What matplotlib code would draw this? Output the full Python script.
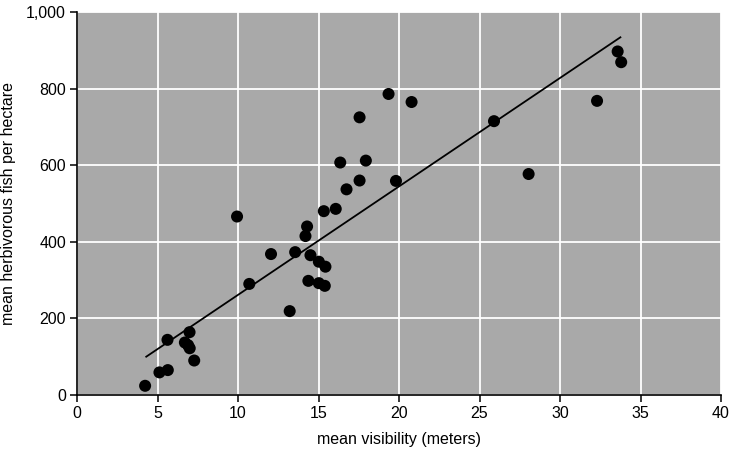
import matplotlib
matplotlib.use("Agg")
import matplotlib.pyplot as plt
from matplotlib.ticker import FuncFormatter

plt.rcParams['font.family'] = ['Liberation Sans', 'DejaVu Sans']

visibility = [4.23, 5.12, 5.64, 5.62, 6.99, 6.7, 6.9, 7.0, 7.28,
              9.94, 10.7, 12.05, 13.21, 13.55, 14.29, 14.19, 14.5, 14.37,
              15.02, 15.43, 15.02, 15.39, 15.33, 16.07, 16.35, 16.74,
              17.55, 17.94, 19.81, 17.55, 19.35, 20.78,
              25.9, 28.05, 32.3, 33.58, 33.8]
fish = [24, 59, 65, 144, 164, 137, 130, 122, 90,
        466, 290, 368, 219, 373, 440, 415, 365, 298,
        348, 335, 292, 285, 480, 486, 607, 537,
        560, 612, 559, 725, 786, 765,
        715, 577, 768, 897, 869]

fit_x = [4.3, 33.75]
fit_y = [100, 934]

xticks = [0, 5, 10, 15, 20, 25, 30, 35, 40]
yticks = [0, 200, 400, 600, 800, 1000]

fig = plt.figure(figsize=(7.32, 4.57), dpi=100)
ax = fig.add_axes([0.1052, 0.1357, 0.8798, 0.838])
ax.set_facecolor('#a9a9a9')
ax.set_xlim(0, 40)
ax.set_ylim(0, 1000)
ax.set_xticks(xticks)
ax.set_yticks(yticks)
ax.yaxis.set_major_formatter(FuncFormatter(lambda v, p: f"{int(v):,}"))
ax.grid(True, color='white', linewidth=1.3)
ax.set_axisbelow(True)
for s in ['top', 'right']:
    ax.spines[s].set_visible(False)
for s in ['left', 'bottom']:
    ax.spines[s].set_linewidth(1.2)
    ax.spines[s].set_color('black')
ax.tick_params(direction='out', length=5, width=1.1, labelsize=11.5, colors='black', pad=3)

ax.plot(fit_x, fit_y, color='black', linewidth=1.3, zorder=3)
ax.scatter(visibility, fish, s=75, color='black', zorder=4, edgecolors='none')

ax.set_xlabel('mean visibility (meters)', fontsize=11.5, labelpad=8)
ax.set_ylabel('mean herbivorous fish per hectare', fontsize=11.5, labelpad=7)

fig.savefig('out.png', dpi=100)
